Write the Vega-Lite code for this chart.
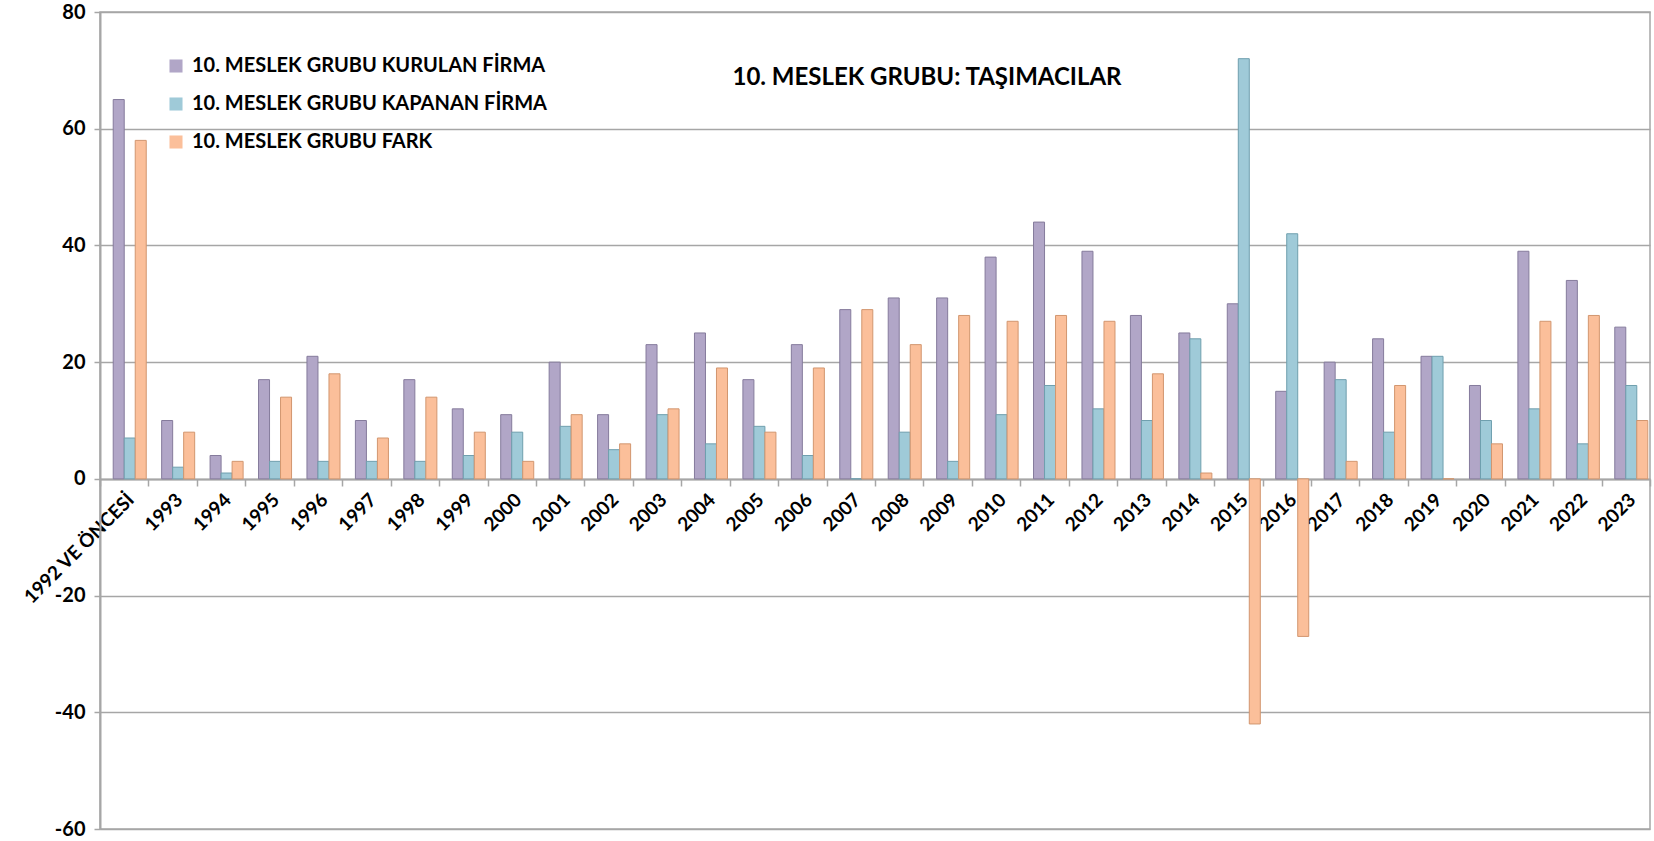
{
  "$schema": "https://vega.github.io/schema/vega-lite/v6.json",
  "width": 1550,
  "height": 817,
  "autosize": {"type": "none"},
  "padding": {"left": 100, "top": 12, "right": 4, "bottom": 12},
  "background": "white",
  "title": {
    "text": "10. MESLEK GRUBU: TAŞIMACILAR",
    "font": "Lato",
    "fontSize": 24,
    "fontWeight": "bold",
    "color": "#000000",
    "anchor": "middle",
    "orient": "top",
    "offset": -88,
    "dx": 52
  },
  "data": {
    "values": [
      {"yil": "1992 VE ÖNCESİ", "seri": "10. MESLEK GRUBU KURULAN FİRMA", "deger": 65},
      {"yil": "1992 VE ÖNCESİ", "seri": "10. MESLEK GRUBU KAPANAN FİRMA", "deger": 7},
      {"yil": "1992 VE ÖNCESİ", "seri": "10. MESLEK GRUBU FARK", "deger": 58},
      {"yil": "1993", "seri": "10. MESLEK GRUBU KURULAN FİRMA", "deger": 10},
      {"yil": "1993", "seri": "10. MESLEK GRUBU KAPANAN FİRMA", "deger": 2},
      {"yil": "1993", "seri": "10. MESLEK GRUBU FARK", "deger": 8},
      {"yil": "1994", "seri": "10. MESLEK GRUBU KURULAN FİRMA", "deger": 4},
      {"yil": "1994", "seri": "10. MESLEK GRUBU KAPANAN FİRMA", "deger": 1},
      {"yil": "1994", "seri": "10. MESLEK GRUBU FARK", "deger": 3},
      {"yil": "1995", "seri": "10. MESLEK GRUBU KURULAN FİRMA", "deger": 17},
      {"yil": "1995", "seri": "10. MESLEK GRUBU KAPANAN FİRMA", "deger": 3},
      {"yil": "1995", "seri": "10. MESLEK GRUBU FARK", "deger": 14},
      {"yil": "1996", "seri": "10. MESLEK GRUBU KURULAN FİRMA", "deger": 21},
      {"yil": "1996", "seri": "10. MESLEK GRUBU KAPANAN FİRMA", "deger": 3},
      {"yil": "1996", "seri": "10. MESLEK GRUBU FARK", "deger": 18},
      {"yil": "1997", "seri": "10. MESLEK GRUBU KURULAN FİRMA", "deger": 10},
      {"yil": "1997", "seri": "10. MESLEK GRUBU KAPANAN FİRMA", "deger": 3},
      {"yil": "1997", "seri": "10. MESLEK GRUBU FARK", "deger": 7},
      {"yil": "1998", "seri": "10. MESLEK GRUBU KURULAN FİRMA", "deger": 17},
      {"yil": "1998", "seri": "10. MESLEK GRUBU KAPANAN FİRMA", "deger": 3},
      {"yil": "1998", "seri": "10. MESLEK GRUBU FARK", "deger": 14},
      {"yil": "1999", "seri": "10. MESLEK GRUBU KURULAN FİRMA", "deger": 12},
      {"yil": "1999", "seri": "10. MESLEK GRUBU KAPANAN FİRMA", "deger": 4},
      {"yil": "1999", "seri": "10. MESLEK GRUBU FARK", "deger": 8},
      {"yil": "2000", "seri": "10. MESLEK GRUBU KURULAN FİRMA", "deger": 11},
      {"yil": "2000", "seri": "10. MESLEK GRUBU KAPANAN FİRMA", "deger": 8},
      {"yil": "2000", "seri": "10. MESLEK GRUBU FARK", "deger": 3},
      {"yil": "2001", "seri": "10. MESLEK GRUBU KURULAN FİRMA", "deger": 20},
      {"yil": "2001", "seri": "10. MESLEK GRUBU KAPANAN FİRMA", "deger": 9},
      {"yil": "2001", "seri": "10. MESLEK GRUBU FARK", "deger": 11},
      {"yil": "2002", "seri": "10. MESLEK GRUBU KURULAN FİRMA", "deger": 11},
      {"yil": "2002", "seri": "10. MESLEK GRUBU KAPANAN FİRMA", "deger": 5},
      {"yil": "2002", "seri": "10. MESLEK GRUBU FARK", "deger": 6},
      {"yil": "2003", "seri": "10. MESLEK GRUBU KURULAN FİRMA", "deger": 23},
      {"yil": "2003", "seri": "10. MESLEK GRUBU KAPANAN FİRMA", "deger": 11},
      {"yil": "2003", "seri": "10. MESLEK GRUBU FARK", "deger": 12},
      {"yil": "2004", "seri": "10. MESLEK GRUBU KURULAN FİRMA", "deger": 25},
      {"yil": "2004", "seri": "10. MESLEK GRUBU KAPANAN FİRMA", "deger": 6},
      {"yil": "2004", "seri": "10. MESLEK GRUBU FARK", "deger": 19},
      {"yil": "2005", "seri": "10. MESLEK GRUBU KURULAN FİRMA", "deger": 17},
      {"yil": "2005", "seri": "10. MESLEK GRUBU KAPANAN FİRMA", "deger": 9},
      {"yil": "2005", "seri": "10. MESLEK GRUBU FARK", "deger": 8},
      {"yil": "2006", "seri": "10. MESLEK GRUBU KURULAN FİRMA", "deger": 23},
      {"yil": "2006", "seri": "10. MESLEK GRUBU KAPANAN FİRMA", "deger": 4},
      {"yil": "2006", "seri": "10. MESLEK GRUBU FARK", "deger": 19},
      {"yil": "2007", "seri": "10. MESLEK GRUBU KURULAN FİRMA", "deger": 29},
      {"yil": "2007", "seri": "10. MESLEK GRUBU KAPANAN FİRMA", "deger": 0},
      {"yil": "2007", "seri": "10. MESLEK GRUBU FARK", "deger": 29},
      {"yil": "2008", "seri": "10. MESLEK GRUBU KURULAN FİRMA", "deger": 31},
      {"yil": "2008", "seri": "10. MESLEK GRUBU KAPANAN FİRMA", "deger": 8},
      {"yil": "2008", "seri": "10. MESLEK GRUBU FARK", "deger": 23},
      {"yil": "2009", "seri": "10. MESLEK GRUBU KURULAN FİRMA", "deger": 31},
      {"yil": "2009", "seri": "10. MESLEK GRUBU KAPANAN FİRMA", "deger": 3},
      {"yil": "2009", "seri": "10. MESLEK GRUBU FARK", "deger": 28},
      {"yil": "2010", "seri": "10. MESLEK GRUBU KURULAN FİRMA", "deger": 38},
      {"yil": "2010", "seri": "10. MESLEK GRUBU KAPANAN FİRMA", "deger": 11},
      {"yil": "2010", "seri": "10. MESLEK GRUBU FARK", "deger": 27},
      {"yil": "2011", "seri": "10. MESLEK GRUBU KURULAN FİRMA", "deger": 44},
      {"yil": "2011", "seri": "10. MESLEK GRUBU KAPANAN FİRMA", "deger": 16},
      {"yil": "2011", "seri": "10. MESLEK GRUBU FARK", "deger": 28},
      {"yil": "2012", "seri": "10. MESLEK GRUBU KURULAN FİRMA", "deger": 39},
      {"yil": "2012", "seri": "10. MESLEK GRUBU KAPANAN FİRMA", "deger": 12},
      {"yil": "2012", "seri": "10. MESLEK GRUBU FARK", "deger": 27},
      {"yil": "2013", "seri": "10. MESLEK GRUBU KURULAN FİRMA", "deger": 28},
      {"yil": "2013", "seri": "10. MESLEK GRUBU KAPANAN FİRMA", "deger": 10},
      {"yil": "2013", "seri": "10. MESLEK GRUBU FARK", "deger": 18},
      {"yil": "2014", "seri": "10. MESLEK GRUBU KURULAN FİRMA", "deger": 25},
      {"yil": "2014", "seri": "10. MESLEK GRUBU KAPANAN FİRMA", "deger": 24},
      {"yil": "2014", "seri": "10. MESLEK GRUBU FARK", "deger": 1},
      {"yil": "2015", "seri": "10. MESLEK GRUBU KURULAN FİRMA", "deger": 30},
      {"yil": "2015", "seri": "10. MESLEK GRUBU KAPANAN FİRMA", "deger": 72},
      {"yil": "2015", "seri": "10. MESLEK GRUBU FARK", "deger": -42},
      {"yil": "2016", "seri": "10. MESLEK GRUBU KURULAN FİRMA", "deger": 15},
      {"yil": "2016", "seri": "10. MESLEK GRUBU KAPANAN FİRMA", "deger": 42},
      {"yil": "2016", "seri": "10. MESLEK GRUBU FARK", "deger": -27},
      {"yil": "2017", "seri": "10. MESLEK GRUBU KURULAN FİRMA", "deger": 20},
      {"yil": "2017", "seri": "10. MESLEK GRUBU KAPANAN FİRMA", "deger": 17},
      {"yil": "2017", "seri": "10. MESLEK GRUBU FARK", "deger": 3},
      {"yil": "2018", "seri": "10. MESLEK GRUBU KURULAN FİRMA", "deger": 24},
      {"yil": "2018", "seri": "10. MESLEK GRUBU KAPANAN FİRMA", "deger": 8},
      {"yil": "2018", "seri": "10. MESLEK GRUBU FARK", "deger": 16},
      {"yil": "2019", "seri": "10. MESLEK GRUBU KURULAN FİRMA", "deger": 21},
      {"yil": "2019", "seri": "10. MESLEK GRUBU KAPANAN FİRMA", "deger": 21},
      {"yil": "2019", "seri": "10. MESLEK GRUBU FARK", "deger": 0},
      {"yil": "2020", "seri": "10. MESLEK GRUBU KURULAN FİRMA", "deger": 16},
      {"yil": "2020", "seri": "10. MESLEK GRUBU KAPANAN FİRMA", "deger": 10},
      {"yil": "2020", "seri": "10. MESLEK GRUBU FARK", "deger": 6},
      {"yil": "2021", "seri": "10. MESLEK GRUBU KURULAN FİRMA", "deger": 39},
      {"yil": "2021", "seri": "10. MESLEK GRUBU KAPANAN FİRMA", "deger": 12},
      {"yil": "2021", "seri": "10. MESLEK GRUBU FARK", "deger": 27},
      {"yil": "2022", "seri": "10. MESLEK GRUBU KURULAN FİRMA", "deger": 34},
      {"yil": "2022", "seri": "10. MESLEK GRUBU KAPANAN FİRMA", "deger": 6},
      {"yil": "2022", "seri": "10. MESLEK GRUBU FARK", "deger": 28},
      {"yil": "2023", "seri": "10. MESLEK GRUBU KURULAN FİRMA", "deger": 26},
      {"yil": "2023", "seri": "10. MESLEK GRUBU KAPANAN FİRMA", "deger": 16},
      {"yil": "2023", "seri": "10. MESLEK GRUBU FARK", "deger": 10}
    ]
  },
  "mark": {"type": "bar", "strokeWidth": 1},
  "encoding": {
    "x": {
      "field": "yil",
      "type": "nominal",
      "sort": null,
      "scale": {"paddingInner": 0, "paddingOuter": 0},
      "axis": {
        "title": null,
        "orient": "bottom",
        "offset": -350,
        "labelAngle": -45,
        "labelAlign": "right",
        "labelBaseline": "top",
        "labelFont": "Lato",
        "labelFontSize": 19,
        "labelFontWeight": "bold",
        "labelColor": "#000000",
        "labelPadding": 4,
        "labelOverlap": false,
        "domainColor": "#a6a6a6",
        "domainWidth": 2,
        "tickColor": "#a6a6a6",
        "tickSize": 7,
        "tickWidth": 1.5,
        "tickBand": "extent",
        "grid": false
      }
    },
    "xOffset": {
      "field": "seri",
      "type": "nominal",
      "scale": {
        "domain": [" ", "10. MESLEK GRUBU KURULAN FİRMA", "10. MESLEK GRUBU KAPANAN FİRMA", "10. MESLEK GRUBU FARK"],
        "paddingInner": 0,
        "paddingOuter": 0.2
      }
    },
    "y": {
      "field": "deger",
      "type": "quantitative",
      "scale": {"domain": [-60, 80], "nice": false, "zero": true},
      "axis": {
        "title": null,
        "values": [-60, -40, -20, 0, 20, 40, 60, 80],
        "labelExpr": "'' + datum.value",
        "labelFont": "Lato",
        "labelFontSize": 20,
        "labelFontWeight": "bold",
        "labelColor": "#000000",
        "labelPadding": 9,
        "domainColor": "#a6a6a6",
        "domainWidth": 2,
        "tickColor": "#a6a6a6",
        "tickSize": 6,
        "tickWidth": 1.5,
        "gridColor": "#a6a6a6",
        "gridWidth": 1.5
      }
    },
    "color": {
      "field": "seri",
      "type": "nominal",
      "scale": {
        "domain": ["10. MESLEK GRUBU KURULAN FİRMA", "10. MESLEK GRUBU KAPANAN FİRMA", "10. MESLEK GRUBU FARK"],
        "range": ["#b1a6c7", "#9fcad8", "#fbbf9a"]
      },
      "legend": {
        "title": null,
        "orient": "none",
        "legendX": 66,
        "legendY": 44,
        "symbolType": "square",
        "symbolSize": 170,
        "symbolStrokeWidth": 0,
        "labelFont": "Lato",
        "labelFontSize": 20,
        "labelFontWeight": "bold",
        "labelColor": "#000000",
        "labelLimit": 600,
        "rowPadding": 18,
        "labelOffset": 6
      }
    },
    "stroke": {
      "field": "seri",
      "type": "nominal",
      "scale": {
        "domain": ["10. MESLEK GRUBU KURULAN FİRMA", "10. MESLEK GRUBU KAPANAN FİRMA", "10. MESLEK GRUBU FARK"],
        "range": ["#857b9c", "#6f9fae", "#d2966f"]
      },
      "legend": null
    }
  },
  "config": {
    "view": {"stroke": "#a6a6a6", "strokeWidth": 1.5}
  }
}
